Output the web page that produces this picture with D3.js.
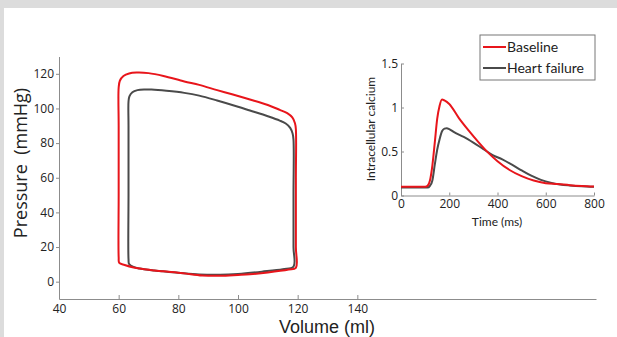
<!DOCTYPE html>
<html>
<head>
<meta charset="utf-8">
<script src="https://cdn.jsdelivr.net/npm/d3@7"></script>
<style>
  html, body { margin: 0; padding: 0; background: #dcdcdc; }
  #chart { width: 617px; height: 337px; }
</style>
</head>
<body>
<div id="chart"></div>
<script>
// Pressure-volume loops (main panel), clockwise from bottom-left
const baselineVolume = [60.2, 60.0, 60.0, 60.0, 60.0, 60.4, 61.6, 63.5, 66, 70, 75, 82, 87, 93, 98, 104, 110, 114, 116.5, 118.2, 119.1, 119.4, 119.4, 119.4, 119.4, 117, 110, 104, 100, 94, 88, 81.6, 75, 70.5, 65, 62]
const baselinePressure = [10.8, 14, 50, 90, 112, 116, 118.7, 120.2, 120.7, 120.4, 118.8, 115.6, 113.6, 110.6, 108.2, 105.2, 102, 99.2, 97.3, 94.8, 91.5, 88, 60, 20, 8, 7, 5.3, 4.3, 3.9, 3.4, 3.6, 4.9, 6, 6.8, 8.2, 9.6]

const failureVolume = [63.5, 63.3, 63.3, 63.3, 63.3, 63.6, 64.6, 66.3, 68.5, 71, 76, 82, 87, 93, 100, 104, 110, 114, 116, 117.5, 118.3, 118.6, 118.6, 118.6, 118.6, 115, 108, 100, 94, 87, 80, 72, 67, 65]
const failurePressure = [10.2, 13, 50, 90, 104, 107, 109.4, 110.6, 111, 110.9, 110.2, 109, 107.4, 104.6, 101, 98.8, 95.5, 93, 91.3, 88.8, 85.5, 82, 50, 20, 8.7, 7.2, 5.8, 4.5, 4, 4.2, 5.2, 6.5, 7.6, 8.5]

const volumeTicks = [40, 60, 80, 100, 120, 140]
const pressureTicks = [0, 20, 40, 60, 80, 100, 120]

// Calcium transients (inset)
const baselineTime = [0, 50, 100, 110, 120, 130, 140, 150, 160, 170, 180, 200, 240, 280, 320, 360, 400, 450, 500, 550, 600, 650, 700, 750, 800]
const baselineCalcium = [0.10, 0.10, 0.10, 0.11, 0.17, 0.34, 0.6, 0.87, 1.02, 1.09, 1.08, 1.04, 0.88, 0.74, 0.61, 0.49, 0.39, 0.29, 0.22, 0.17, 0.14, 0.13, 0.117, 0.108, 0.102]

const failureTime = [0, 50, 100, 110, 120, 130, 140, 150, 160, 170, 180, 190, 200, 220, 260, 300, 340, 380, 420, 460, 500, 540, 580, 620, 660, 700, 750, 800]
const failureCalcium = [0.09, 0.09, 0.09, 0.09, 0.11, 0.17, 0.35, 0.52, 0.64, 0.73, 0.76, 0.765, 0.755, 0.72, 0.665, 0.6, 0.53, 0.46, 0.41, 0.35, 0.285, 0.225, 0.178, 0.145, 0.125, 0.114, 0.104, 0.098]

const timeTicks = [0, 200, 400, 600, 800]
const calciumTicks = [0, 0.5, 1, 1.5]

const seriesNames = ['Baseline', 'Heart failure']

const colors = {
  baseline: '#e8151b',
  failure: '#4a4a4a',
  axis: '#8c8c8c',
  text: '#222',
  frame: '#dcdcdc'
}

const W = 617
const H = 337

const svg = d3.select('#chart').append('svg')
  .attr('width', W)
  .attr('height', H)
  .style('display', 'block')

// grey frame with white panel
svg.append('rect').attr('width', W).attr('height', H).attr('fill', colors.frame)
svg.append('rect').attr('x', 4).attr('y', 8).attr('width', W - 4).attr('height', H - 8).attr('fill', '#fff')

const styleAxis = (g, size) => {
  g.select('.domain').attr('stroke', colors.axis)
  g.selectAll('.tick line').attr('stroke', colors.axis)
  g.selectAll('.tick text')
    .attr('fill', colors.text)
    .style('font-family', '"Open Sans", sans-serif')
    .style('font-size', size)
}

// ---- main panel ----
const x = d3.scaleLinear().domain([40, 220]).range([59, 596])
const y = d3.scaleLinear().domain([-10, 130]).range([299, 56.5])

svg.append('g')
  .attr('transform', `translate(0,${y(-10)})`)
  .call(d3.axisBottom(x).tickValues(volumeTicks).tickSize(-4).tickSizeOuter(0).tickPadding(5))
  .call((g) => styleAxis(g, '12px'))

svg.append('g')
  .attr('transform', `translate(${x(40)},0)`)
  .call(d3.axisLeft(y).tickValues(pressureTicks).tickSize(3).tickSizeOuter(0).tickPadding(2))
  .call((g) => styleAxis(g, '12px'))

const loopLine = d3.line()
  .x((d) => x(d[0]))
  .y((d) => y(d[1]))
  .curve(d3.curveCatmullRomClosed.alpha(0.5))

svg.append('path')
  .datum(failureVolume.map((v, i) => [v, failurePressure[i]]))
  .attr('d', loopLine)
  .attr('fill', 'none')
  .attr('stroke', colors.failure)
  .attr('stroke-width', 2)

svg.append('path')
  .datum(baselineVolume.map((v, i) => [v, baselinePressure[i]]))
  .attr('d', loopLine)
  .attr('fill', 'none')
  .attr('stroke', colors.baseline)
  .attr('stroke-width', 2)

svg.append('text')
  .attr('x', 327)
  .attr('y', 333)
  .attr('text-anchor', 'middle')
  .attr('fill', colors.text)
  .style('font-family', '"Liberation Sans", sans-serif')
  .style('font-size', '18px')
  .text('Volume (ml)')

svg.append('text')
  .attr('transform', 'translate(27,163) rotate(-90)')
  .attr('text-anchor', 'middle')
  .attr('fill', colors.text)
  .style('font-family', '"Open Sans", sans-serif')
  .style('font-size', '18px')
  .style('white-space', 'pre')
  .text('Pressure  (mmHg)')

// ---- inset ----
const xi = d3.scaleLinear().domain([0, 800]).range([401, 594])
const yi = d3.scaleLinear().domain([0, 1.5]).range([195.5, 63.5])

svg.append('g')
  .attr('transform', `translate(0,${yi(0)})`)
  .call(d3.axisBottom(xi).tickValues(timeTicks).tickSize(-3).tickSizeOuter(0).tickPadding(4))
  .call((g) => styleAxis(g, '12px'))

svg.append('g')
  .attr('transform', `translate(${xi(0)},0)`)
  .call(d3.axisLeft(yi).tickValues(calciumTicks).tickFormat((d) => String(d)).tickSize(-3).tickSizeOuter(0).tickPadding(3))
  .call((g) => styleAxis(g, '12px'))

const caLine = d3.line()
  .x((d) => xi(d[0]))
  .y((d) => yi(d[1]))
  .curve(d3.curveMonotoneX)

svg.append('path')
  .datum(failureTime.map((t, i) => [t, failureCalcium[i]]))
  .attr('d', caLine)
  .attr('fill', 'none')
  .attr('stroke', colors.failure)
  .attr('stroke-width', 2)

svg.append('path')
  .datum(baselineTime.map((t, i) => [t, baselineCalcium[i]]))
  .attr('d', caLine)
  .attr('fill', 'none')
  .attr('stroke', colors.baseline)
  .attr('stroke-width', 2)

svg.append('text')
  .attr('x', 497)
  .attr('y', 226)
  .attr('text-anchor', 'middle')
  .attr('fill', colors.text)
  .style('font-family', 'Lato, sans-serif')
  .style('font-size', '12px')
  .text('Time (ms)')

svg.append('text')
  .attr('transform', 'translate(375,129) rotate(-90)')
  .attr('text-anchor', 'middle')
  .attr('fill', colors.text)
  .style('font-family', 'Lato, sans-serif')
  .style('font-size', '12px')
  .text('Intracellular calcium')

// legend
const legend = svg.append('g').attr('transform', 'translate(480,35)')
legend.append('rect')
  .attr('width', 115)
  .attr('height', 45)
  .attr('fill', '#fff')
  .attr('stroke', '#777')
  .attr('stroke-width', 1)

const legendColors = [colors.baseline, colors.failure]
seriesNames.forEach((name, i) => {
  const ly = 12 + i * 21
  legend.append('line')
    .attr('x1', 3).attr('x2', 26)
    .attr('y1', ly).attr('y2', ly)
    .attr('stroke', legendColors[i])
    .attr('stroke-width', 2)
  legend.append('text')
    .attr('x', 27)
    .attr('y', ly + 5)
    .attr('fill', colors.text)
    .style('font-family', 'Lato, sans-serif')
    .style('font-size', '14px')
    .text(name)
})
</script>
</body>
</html>
